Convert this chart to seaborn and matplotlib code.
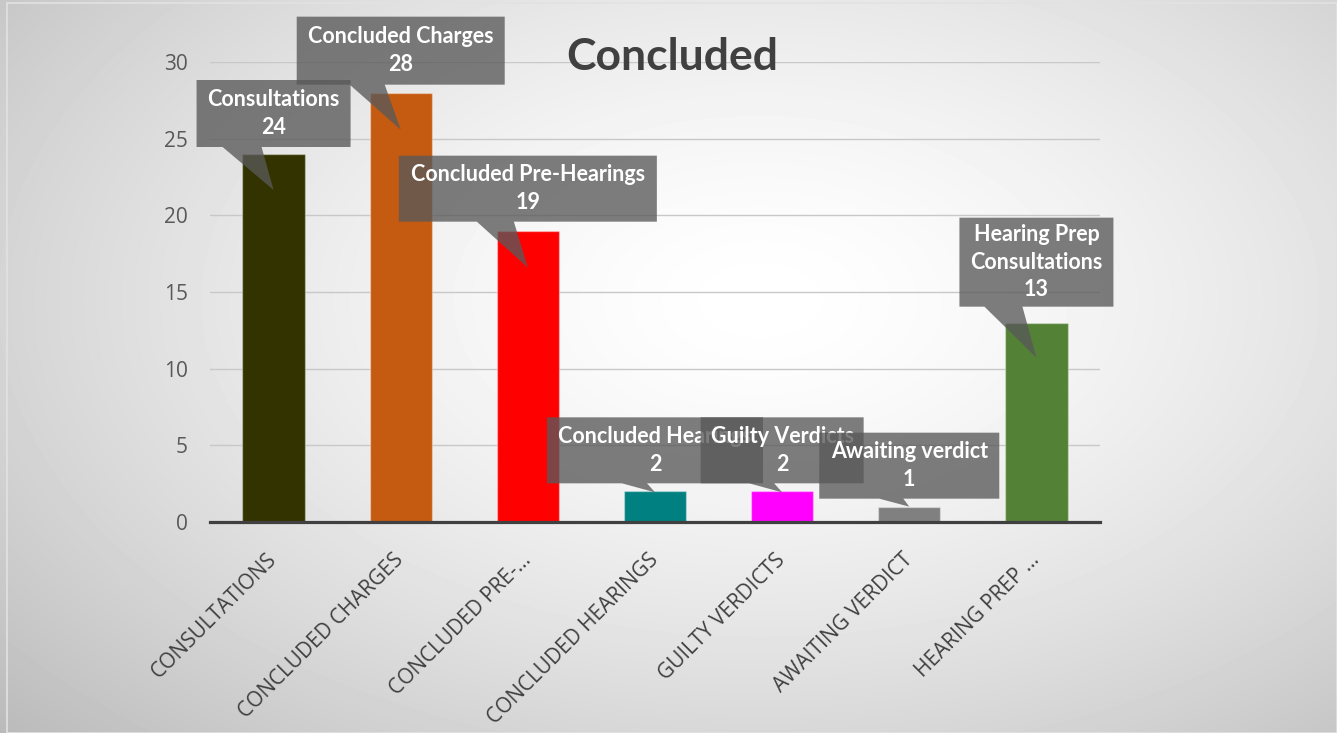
import numpy as np
import matplotlib
matplotlib.use("Agg")
import matplotlib.pyplot as plt
import matplotlib.transforms as mtransforms
from matplotlib.patches import Polygon, Rectangle
import seaborn as sns

# ---- data ----
categories = ["Consultations", "Concluded Charges", "Concluded Pre-Hearings",
              "Concluded Hearings", "Guilty Verdicts", "Awaiting verdict",
              "Hearing Prep Consultations"]
tick_labels = ["CONSULTATIONS", "CONCLUDED CHARGES", "CONCLUDED PRE-\u2026",
               "CONCLUDED HEARINGS", "GUILTY VERDICTS", "AWAITING VERDICT",
               "HEARING PREP \u2026"]
callout_names = ["Consultations", "Concluded Charges", "Concluded Pre-Hearings",
                 "Concluded Hearings", "Guilty Verdicts", "Awaiting verdict",
                 "Hearing Prep\nConsultations"]
values = [24, 28, 19, 2, 2, 1, 13]
bar_colors = ["#333300", "#C55A11", "#FF0000", "#008080", "#FF00FF",
              "#808080", "#538135"]
y_ticks = [0, 5, 10, 15, 20, 25, 30]
title = "Concluded"

# ---- figure ----
W, H = 1337, 733
DPI = 100
sns.set_theme(style="white")
plt.rcParams["font.family"] = ["Open Sans", "DejaVu Sans"]

fig = plt.figure(figsize=(W / DPI, H / DPI), dpi=DPI)

# radial gradient backdrop
bg = fig.add_axes([0, 0, 1, 1], zorder=-10)
yy, xx = np.mgrid[0:H, 0:W]
cx, cy = 760, 300
d = np.sqrt(((xx - cx) / (W * 0.62)) ** 2 + ((yy - cy) / (H * 0.68)) ** 2)
d = np.clip(d / d.max(), 0, 1)
shade = 1.0 - 0.27 * d ** 1.5
bg.imshow(shade, cmap="gray", vmin=0, vmax=1, aspect="auto",
          extent=[0, 1, 0, 1], interpolation="bilinear")
bg.set_axis_off()
fig.add_artist(Rectangle((7 / W, 0), 1 - 7 / W, 1 - 3 / H,
                         transform=fig.transFigure, fill=False,
                         edgecolor="#e2e2e2", linewidth=1.2, zorder=-5))

# plot area
left, right = 210 / W, 1100 / W
bottom, top = 1 - 522 / H, 1 - 62 / H
ax = fig.add_axes([left, bottom, right - left, top - bottom])
ax.set_facecolor("none")

sns.barplot(x=categories, y=values, hue=categories, palette=bar_colors,
            width=0.49, saturation=1, legend=False, ax=ax,
            edgecolor=(1, 1, 1, 0.35), linewidth=1.0, zorder=3)

ax.set_xlim(-0.5, len(categories) - 0.5)
ax.set_ylim(0, 30)
ax.set_yticks(y_ticks)
ax.set_yticklabels([str(t) for t in y_ticks])
ax.yaxis.grid(True, color="#c8c8c8", linewidth=1.0, zorder=0)
ax.set_axisbelow(True)
for s in ["left", "right", "top"]:
    ax.spines[s].set_visible(False)
ax.spines["bottom"].set_color("#404040")
ax.spines["bottom"].set_linewidth(2.3)
ax.spines["bottom"].set_zorder(5)

ax.tick_params(axis="y", length=0, pad=16, labelsize=15, labelcolor="#595959")
ax.set_xticks(range(len(categories)))
ax.set_xticklabels(tick_labels, rotation=45, ha="right", va="center",
                   rotation_mode="anchor", fontsize=15, color="#404040")
ax.tick_params(axis="x", which="major", length=0, pad=25)
ax.set_xticks(np.arange(-0.5, len(categories), 1.0), minor=True)
ax.tick_params(axis="x", which="minor", length=4.5, width=2.3,
               color="#404040", direction="out")
ax.set_xlabel("")
ax.set_ylabel("")

fig.text(672 / W, 1 - 57 / H, title, ha="center", va="center",
         fontsize=32, fontweight="bold", color="#404040",
         family=["Lato", "DejaVu Sans"])

# ---- callout labels (pixel offsets relative to each bar top) ----
# (box width, box height, gap above bar top, pointer depth, pointer base x0, x1)
callout_layout = [
    (154, 67, 7, 36, -51, -12),
    (208, 68, 8, 37, -51, -16),
    (258, 66, 9, 37, -51, -14),
    (216, 66, 8, 1, -33, -8),
    (163, 66, 8, 1, -33, -8),
    (180, 66, 8, 0, -30, -6),
    (154, 89, 16, 35, -52, -14),
]
ident = mtransforms.IdentityTransform()
fig.canvas.draw()
for i, (name, v) in enumerate(zip(callout_names, values)):
    bw, bh, gap, depth, b0, b1 = callout_layout[i]
    px, py = ax.transData.transform((i, v))
    L, R = px - bw / 2, px + bw / 2
    B = py + gap
    T = B + bh
    verts = [(L, T), (R, T), (R, B), (px + b1, B), (px, py - depth),
             (px + b0, B), (L, B)]
    fig.add_artist(Polygon(verts, closed=True, transform=ident,
                           facecolor="#595959", alpha=0.78,
                           edgecolor="none", zorder=10 + 2 * i))
    fig.text(px, (B + T) / 2, f"{name}\n{v}", transform=ident,
             ha="center", va="center", ma="center", color="white",
             fontsize=15.5, fontweight="bold", linespacing=1.4,
             family=["Lato", "DejaVu Sans"], zorder=11 + 2 * i)

fig.savefig("out.png", dpi=DPI)
